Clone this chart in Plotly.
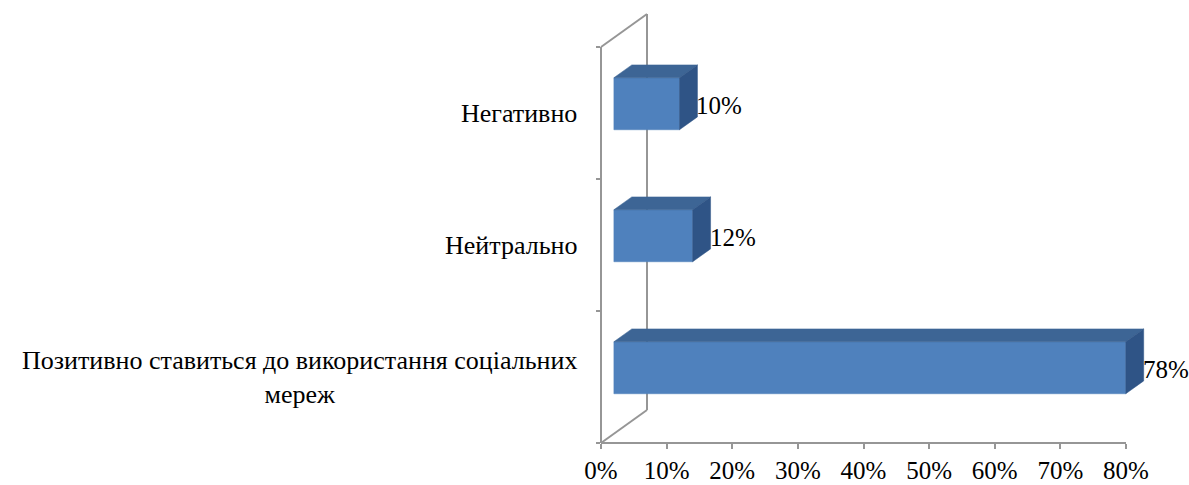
import plotly.graph_objects as go

# ---- data -------------------------------------------------------------
categories = [
    "Позитивно ставиться до використання соціальних<br>мереж",
    "Нейтрально",
    "Негативно",
]
values = [78, 12, 10]
value_labels = ["78%", "12%", "10%"]
x_tick_vals = [0, 10, 20, 30, 40, 50, 60, 70, 80]
x_tick_text = ["0%", "10%", "20%", "30%", "40%", "50%", "60%", "70%", "80%"]

# ---- page / plot geometry (pixels) -----------------------------------
W, H = 1189, 485
PLOT_L, PLOT_R = 601, 1126
PLOT_T, PLOT_B = 47, 443
X_MAX = 80
N = len(categories)

px_per_x = (PLOT_R - PLOT_L) / X_MAX
px_per_y = (PLOT_B - PLOT_T) / N
Y_LO, Y_HI = -0.5, N - 0.5

# oblique projection used for the pseudo-3D look (data units per unit depth)
DEPTH_X = 46 / px_per_x
DEPTH_Y = 33 / px_per_y
BAR_Z0, BAR_Z1 = 0.28, 0.67      # bar front / back depth inside the wall
BAR_HALF = 0.197                 # half bar thickness in category units

FONT = "Liberation Serif"
FONT_SIZE = 25
CAT_FONT_SIZE = 26
GRAY = "#969696"
FRONT = "#4F81BD"
TOP = "#3D6595"
SIDE = "#2F5486"


def proj(x, y, z):
    return x + z * DEPTH_X, y + z * DEPTH_Y


def poly(points):
    xs, ys = [], []
    for p in points:
        px, py = proj(*p)
        xs.append(px)
        ys.append(py)
    xs.append(xs[0])
    ys.append(ys[0])
    return xs, ys


fig = go.Figure()

# axes-only subplot (ticks and tick labels)
fig.add_trace(go.Scatter(x=[None], y=[None], xaxis="x", yaxis="y",
                         hoverinfo="skip", showlegend=False))

# wall outline and floor baseline, drawn in the full-page overlay subplot
segments = [
    [(0, Y_LO, 0), (0, Y_HI, 0)],
    [(0, Y_LO, 1), (0, Y_HI, 1)],
    [(0, Y_HI, 0), (0, Y_HI, 1)],
    [(0, Y_LO, 0), (0, Y_LO, 1)],
    [(0, Y_LO, 0), (X_MAX, Y_LO, 0)],
]
wx, wy = [], []
for a, b in segments:
    for p in (a, b):
        px, py = proj(*p)
        wx.append(px)
        wy.append(py)
    wx.append(None)
    wy.append(None)
fig.add_trace(go.Scatter(x=wx, y=wy, mode="lines", xaxis="x2", yaxis="y2",
                         line=dict(color=GRAY, width=2), hoverinfo="skip",
                         showlegend=False))

# 3D bars: front, top and right side faces
for i, v in enumerate(values):
    lo, hi = i - BAR_HALF, i + BAR_HALF
    faces = [
        (FRONT, [(0, lo, BAR_Z0), (v, lo, BAR_Z0), (v, hi, BAR_Z0), (0, hi, BAR_Z0)]),
        (TOP, [(0, hi, BAR_Z0), (v, hi, BAR_Z0), (v, hi, BAR_Z1), (0, hi, BAR_Z1)]),
        (SIDE, [(v, lo, BAR_Z0), (v, hi, BAR_Z0), (v, hi, BAR_Z1), (v, lo, BAR_Z1)]),
    ]
    for color, pts in faces:
        xs, ys = poly(pts)
        fig.add_trace(go.Scatter(x=xs, y=ys, mode="lines", fill="toself",
                                 fillcolor=color, line=dict(color=color, width=0.5),
                                 xaxis="x2", yaxis="y2", hoverinfo="skip",
                                 showlegend=False))

# value labels beside each bar
for i, (v, lab) in enumerate(zip(values, value_labels)):
    lx, _ = proj(v, i, BAR_Z1)
    fig.add_annotation(x=lx, y=i + 0.06, xref="x2", yref="y2", text=lab,
                       showarrow=False, xanchor="left", yanchor="middle",
                       xshift=-3, font=dict(family=FONT, size=FONT_SIZE, color="black"))

# category labels
for i, c in enumerate(categories):
    fig.add_annotation(x=(PLOT_L - 22) / W, y=i, xref="paper", yref="y", text=c,
                       showarrow=False, xanchor="right", yanchor="middle",
                       align="center",
                       font=dict(family=FONT, size=CAT_FONT_SIZE, color="black"))

fig.update_layout(
    width=W, height=H,
    margin=dict(l=0, r=0, t=0, b=0, autoexpand=False),
    paper_bgcolor="white", plot_bgcolor="rgba(0,0,0,0)",
    showlegend=False,
    font=dict(family=FONT, size=FONT_SIZE, color="black"),
    xaxis=dict(domain=[PLOT_L / W, PLOT_R / W], range=[0, X_MAX],
               tickvals=x_tick_vals, ticktext=x_tick_text,
               ticks="outside", ticklen=5, tickwidth=2, tickcolor=GRAY,
               showline=False, showgrid=False, zeroline=False,
               tickfont=dict(family=FONT, size=FONT_SIZE, color="black"),
               anchor="y", fixedrange=True),
    yaxis=dict(domain=[(H - PLOT_B) / H, (H - PLOT_T) / H], range=[Y_LO, Y_HI],
               tickvals=[Y_LO + k for k in range(N + 1)],
               ticks="outside", ticklen=4, tickwidth=2, tickcolor=GRAY,
               showticklabels=False, showline=False, showgrid=False,
               zeroline=False, anchor="x", fixedrange=True),
    xaxis2=dict(domain=[0, 1], range=[-PLOT_L / px_per_x, (W - PLOT_L) / px_per_x],
                visible=False, anchor="y2", fixedrange=True),
    yaxis2=dict(domain=[0, 1],
                range=[Y_LO - (H - PLOT_B) / px_per_y, Y_HI + PLOT_T / px_per_y],
                visible=False, anchor="x2", fixedrange=True),
)

fig.write_html("out.html")
